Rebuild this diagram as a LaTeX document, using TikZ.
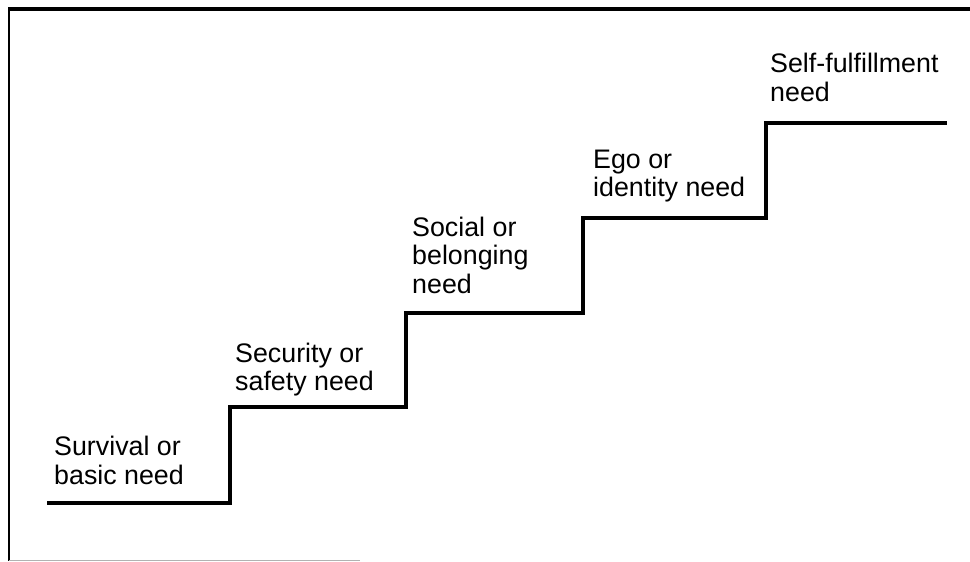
\documentclass[tikz,border=0pt]{standalone}
\usepackage{fontspec}
\setmainfont{Liberation Sans}
\begin{document}
\begin{tikzpicture}[x=1pt,y=-1pt,
  stair/.style={line width=3.4pt,line join=miter,line cap=rect},
  lbl/.style={anchor=base west,inner sep=0pt,align=left,font=\fontsize{26.8}{28.5}\selectfont}]
\useasboundingbox (0,0) rectangle (970,562);
\fill[white] (0,0) rectangle (970,562);
% frame
\draw[line width=3.4pt] (8,9) -- (970,9);
\draw[line width=2pt] (9,9) -- (9,561);
\draw[line width=0.8pt,gray!60] (9,560.5) -- (360,560.5);
% staircase
\coordinate (s0) at (49,503);
\coordinate (s1) at (230,503);
\coordinate (s2) at (230,407);
\coordinate (s3) at (406,407);
\coordinate (s4) at (406,313);
\coordinate (s5) at (583,313);
\coordinate (s6) at (583,218);
\coordinate (s7) at (766,218);
\coordinate (s8) at (766,123);
\coordinate (s9) at (945,123);
\draw[stair] (s0) -- (s1) -- (s2) -- (s3) -- (s4) -- (s5) -- (s6) -- (s7) -- (s8) -- (s9);
% labels (anchor at baseline of last line)
\node[lbl] (l1) at (54,484) {Survival or\\basic need};
\node[lbl] (l2) at (235,390.5) {Security or\\safety need};
\node[lbl] (l3) at (412,293) {Social or\\belonging\\need};
\node[lbl] (l4) at (593,196.5) {Ego or\\identity need};
\node[lbl] (l5) at (770,101) {Self-fulfillment\\need};
\end{tikzpicture}
\end{document}
